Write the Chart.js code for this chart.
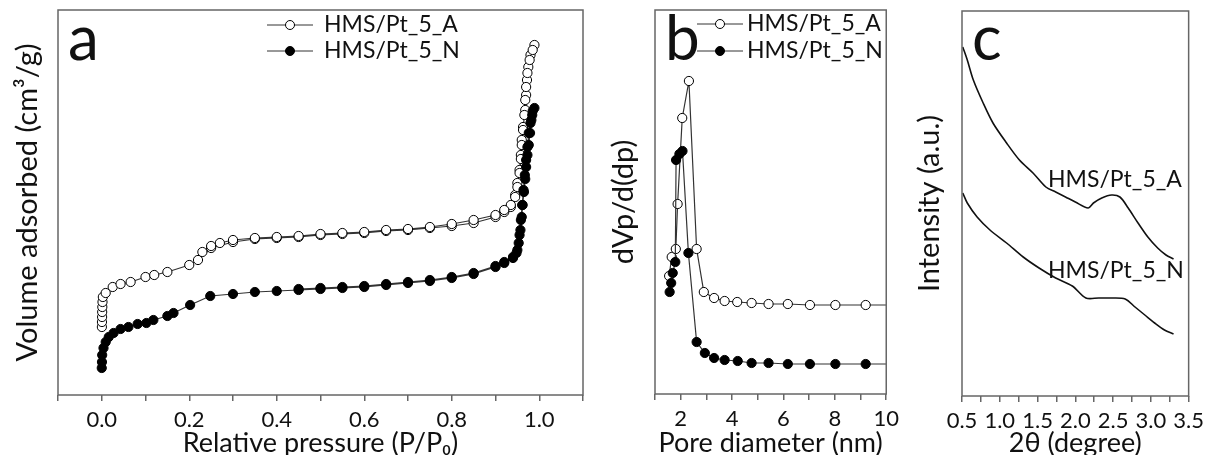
<!DOCTYPE html>
<html>
<head>
<meta charset="utf-8">
<title>HMS/Pt isotherms, pore size and XRD</title>
<script src="https://cdn.jsdelivr.net/npm/chart.js@4.4.1/dist/chart.umd.min.js"></script>
<style>
  html, body { margin: 0; padding: 0; background: #fff; }
  .panel { position: absolute; top: 0; }
</style>
</head>
<body>
<div class="panel" style="left:0"><canvas id="chart-a" width="600" height="455"></canvas></div>
<div class="panel" style="left:595px"><canvas id="chart-b" width="310" height="455"></canvas></div>
<div class="panel" style="left:905px"><canvas id="chart-c" width="305" height="455"></canvas></div>
<script>
"use strict";

var seriesNames = ["HMS/Pt_5_A", "HMS/Pt_5_N"];

// (a) N2 isotherms: adsorption branch up to P/P0 ~ 1, then desorption back down
var isoPressureA = [0.0003, 0.0005, 0.0008, 0.001, 0.0013, 0.0017, 0.0025, 0.009, 0.025, 0.043, 0.066, 0.1, 0.12, 0.15, 0.2, 0.22, 0.25, 0.3, 0.35, 0.4, 0.45, 0.5, 0.55, 0.6, 0.65, 0.7, 0.75, 0.8, 0.85, 0.9, 0.92, 0.935, 0.945, 0.95, 0.955, 0.958, 0.96, 0.963, 0.968, 0.97, 0.972, 0.975, 0.98, 0.989,
    0.985, 0.978, 0.973, 0.97, 0.968, 0.966, 0.963, 0.96, 0.958, 0.955, 0.95, 0.945, 0.935, 0.92, 0.9, 0.85, 0.8, 0.75, 0.7, 0.65, 0.6, 0.55, 0.5, 0.45, 0.4, 0.35, 0.3, 0.27, 0.25, 0.23];
var isoVolumeA = [68, 73, 78, 83, 88, 93, 98, 102, 108, 111, 113, 118, 120, 123, 130, 135, 147, 153, 156, 157, 158, 160, 161, 162, 164, 165, 167, 169, 172, 178, 183, 188, 200, 212, 225, 240, 255, 268, 285, 300, 315, 328, 340, 350,
    345, 335, 322, 308, 295, 280, 265, 250, 236, 222, 208, 198, 190, 185, 180, 175, 171, 168, 166, 165, 163, 162, 161, 159, 158, 157, 155, 152, 149, 143];
var isoPressureN = [0.0, 0.0005, 0.001, 0.004, 0.009, 0.016, 0.027, 0.043, 0.061, 0.082, 0.102, 0.118, 0.15, 0.164, 0.202, 0.248, 0.3, 0.35, 0.4, 0.45, 0.5, 0.55, 0.6, 0.65, 0.7, 0.75, 0.8, 0.85, 0.9, 0.92, 0.94, 0.95, 0.955, 0.958, 0.961, 0.964, 0.967, 0.97, 0.973, 0.976, 0.98, 0.984, 0.989,
    0.985, 0.982, 0.979, 0.976, 0.973, 0.97, 0.968, 0.965, 0.962, 0.96, 0.957, 0.953, 0.948, 0.94, 0.92, 0.9, 0.85, 0.8, 0.75, 0.7, 0.65, 0.6, 0.55, 0.5, 0.45];
var isoVolumeN = [27, 33, 40, 47, 53, 58, 62, 66, 68, 71, 72, 75, 79, 82, 90, 99, 101, 103, 104, 105, 106, 107, 108, 110, 112, 114, 117, 121, 128, 133, 138, 145, 160, 175, 190, 205, 220, 235, 248, 262, 272, 280, 287,
    284, 275, 262, 250, 240, 228, 216, 203, 190, 178, 165, 152, 142, 137, 132, 129, 122, 118, 115, 113, 111, 109, 108, 107, 106];

// (b) pore size distribution
var poreDiamA = [1.55, 1.65, 1.81, 1.88, 2.06, 2.32, 2.62, 2.90, 3.30, 3.71, 4.20, 4.76, 5.42, 6.17, 7.03, 8.02, 9.20, 10.4];
var poreDvA = [118, 137, 145, 190, 276, 313, 145, 102, 96, 93, 92, 91, 90, 90, 89, 89, 89, 89];
var poreDiamN = [1.57, 1.63, 1.69, 1.79, 1.82, 1.95, 2.07, 2.30, 2.62, 2.94, 3.30, 3.71, 4.22, 4.76, 5.42, 6.17, 7.03, 8.02, 9.20, 10.4];
var poreDvN = [102, 111, 121, 132, 234, 240, 243, 141, 52, 41, 36, 34, 33, 31, 31, 30, 30, 30, 30, 30];

// (c) low-angle XRD
var thetaA = [0.51, 0.57, 0.65, 0.78, 0.91, 1.09, 1.26, 1.44, 1.61, 1.74, 1.87, 2.00, 2.17, 2.24, 2.35, 2.48, 2.59, 2.70, 2.83, 2.96, 3.09, 3.20, 3.30];
var intensityA = [349, 336, 316, 293, 273, 253, 236, 223, 209, 204, 199, 194, 188, 193, 198, 201, 199, 188, 173, 159, 148, 141, 137];
var thetaN = [0.51, 0.57, 0.70, 0.87, 1.09, 1.31, 1.52, 1.74, 1.96, 2.14, 2.31, 2.48, 2.66, 2.79, 2.92, 3.05, 3.18, 3.30];
var intensityN = [203, 193, 179, 166, 153, 139, 128, 118, 110, 98, 98, 98, 97, 89, 81, 73, 66, 62];

var FONT = "Lato, 'Open Sans', sans-serif";
var INK = "#111";
var FRAME = "#666";

function toPoints(xs, ys) {
    return xs.map(function (x, i) { return { x: x, y: ys[i] }; });
}

// frame, panel letter, legend and in-plot labels
var deco = {
    id: "deco",
    afterDatasetsDraw: function (chart, args, opts) {
        var ctx = chart.ctx, a = chart.chartArea;
        ctx.save();
        ctx.strokeStyle = FRAME;
        ctx.lineWidth = 1.5;
        ctx.strokeRect(a.left, a.top, a.right - a.left, a.bottom - a.top);

        ctx.fillStyle = INK;
        ctx.textBaseline = "alphabetic";
        ctx.font = "62px " + FONT;
        ctx.fillText(opts.letter, opts.letterX, 60);

        if (opts.legend) {
            var lg = opts.legend;
            ctx.font = "23px " + FONT;
            ctx.textBaseline = "middle";
            seriesNames.forEach(function (name, i) {
                var y = lg.ys[i];
                ctx.strokeStyle = "#333";
                ctx.lineWidth = 1;
                ctx.beginPath();
                ctx.moveTo(lg.x1, y);
                ctx.lineTo(lg.x2, y);
                ctx.stroke();
                ctx.beginPath();
                ctx.arc((lg.x1 + lg.x2) / 2, y, 4.5, 0, Math.PI * 2);
                ctx.fillStyle = i === 0 ? "#fff" : "#000";
                ctx.fill();
                ctx.strokeStyle = "#000";
                ctx.stroke();
                ctx.fillStyle = INK;
                ctx.fillText(name, lg.textX, y);
            });
        }
        if (opts.labels) {
            ctx.font = "23px " + FONT;
            ctx.textBaseline = "alphabetic";
            opts.labels.forEach(function (l, i) {
                ctx.fillText(seriesNames[i], l.x, l.y);
            });
        }
        ctx.restore();
    }
};

function markerSet(label, pts, filled, order) {
    return {
        label: label,
        data: pts,
        showLine: true,
        borderColor: "#333",
        borderWidth: 1.2,
        pointRadius: 4.6,
        pointBorderWidth: 1,
        pointBorderColor: "#000",
        pointBackgroundColor: filled ? "#000" : "#fff",
        order: order
    };
}

function lineSet(label, pts) {
    return {
        label: label,
        data: pts,
        showLine: true,
        borderColor: "#111",
        borderWidth: 1.6,
        pointRadius: 0,
        tension: 0.3
    };
}

function panelOptions(p) {
    return {
        responsive: false,
        animation: false,
        layout: { padding: { left: 0, top: p.top, right: p.right, bottom: 0 } },
        plugins: {
            legend: { display: false },
            tooltip: { enabled: false },
            deco: p.deco
        },
        scales: {
            x: {
                type: "linear",
                min: p.xMin,
                max: p.xMax,
                afterFit: function (s) { s.height = p.xHeight; },
                border: { display: false },
                grid: { drawOnChartArea: false, drawTicks: true, tickLength: 6, color: FRAME, lineWidth: 1.5 },
                ticks: {
                    stepSize: p.step,
                    autoSkip: false,
                    maxRotation: 0,
                    padding: 6,
                    color: INK,
                    font: { family: FONT, size: 22 },
                    callback: p.tickLabel
                },
                title: {
                    display: true,
                    text: p.xTitle,
                    color: INK,
                    font: { family: FONT, size: 27, lineHeight: 1 },
                    padding: { top: 0, bottom: -2 }
                }
            },
            y: {
                min: 0,
                max: p.yMax,
                afterFit: function (s) { s.width = p.yWidth; },
                border: { display: false },
                grid: { display: false },
                ticks: { display: false },
                title: {
                    display: true,
                    text: p.yTitle,
                    color: INK,
                    font: { family: FONT, size: 29 },
                    padding: { top: p.yTitlePad, bottom: 0 }
                }
            }
        }
    };
}

// Panel a
new Chart(document.getElementById("chart-a"), {
    type: "scatter",
    data: {
        datasets: [
            markerSet(seriesNames[0], toPoints(isoPressureA, isoVolumeA), false, 1),
            markerSet(seriesNames[1], toPoints(isoPressureN, isoVolumeN), true, 0)
        ]
    },
    options: panelOptions({
        xMin: -0.1, xMax: 1.1, step: 0.1, yMax: 385,
        top: 10, right: 17, xHeight: 60, yWidth: 58, yTitlePad: 10,
        xTitle: "Relative pressure (P/P\u2080)",
        yTitle: "Volume adsorbed (cm\u00b3/g)",
        tickLabel: function (v) {
            var k = Math.round(v * 10);
            return (k % 2 === 0 && k >= 0 && k <= 10) ? (k / 10).toFixed(1) : "";
        },
        deco: { letter: "a", letterX: 68, legend: { x1: 267, x2: 313, textX: 324, ys: [25, 51] } }
    }),
    plugins: [deco]
});

// Panel b
new Chart(document.getElementById("chart-b"), {
    type: "scatter",
    data: {
        datasets: [
            markerSet(seriesNames[0], toPoints(poreDiamA, poreDvA), false, 1),
            markerSet(seriesNames[1], toPoints(poreDiamN, poreDvN), true, 0)
        ]
    },
    options: panelOptions({
        xMin: 1, xMax: 10, step: 1, yMax: 384,
        top: 10, right: 18, xHeight: 61, yWidth: 60, yTitlePad: 11,
        xTitle: "Pore diameter (nm)",
        yTitle: "dVp/d(dp)",
        tickLabel: function (v) {
            var k = Math.round(v);
            return k % 2 === 0 ? String(k) : "";
        },
        deco: { letter: "b", letterX: 70, legend: { x1: 102, x2: 148, textX: 152, ys: [24, 51] } }
    }),
    plugins: [deco]
});

// Panel c
new Chart(document.getElementById("chart-c"), {
    type: "scatter",
    data: {
        datasets: [
            lineSet(seriesNames[0], toPoints(thetaA, intensityA)),
            lineSet(seriesNames[1], toPoints(thetaN, intensityN))
        ]
    },
    options: panelOptions({
        xMin: 0.5, xMax: 3.5, step: 0.25, yMax: 385,
        top: 11, right: 14, xHeight: 59, yWidth: 57, yTitlePad: 7,
        xTitle: "2\u03b8 (degree)",
        yTitle: "Intensity (a.u.)",
        tickLabel: function (v) {
            var k = Math.round(v * 4);
            return k % 2 === 0 ? (k / 4).toFixed(1) : "";
        },
        deco: { letter: "c", letterX: 67, labels: [{ x: 143, y: 187 }, { x: 143, y: 278 }] }
    }),
    plugins: [deco]
});
</script>
</body>
</html>
